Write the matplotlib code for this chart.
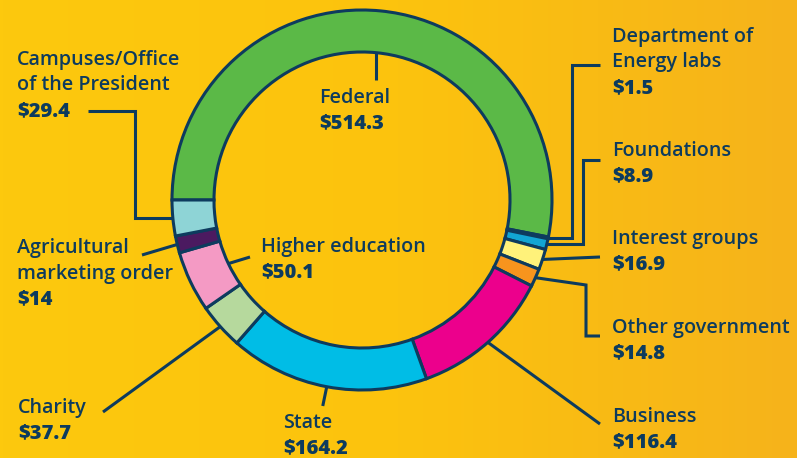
import numpy as np
import matplotlib
matplotlib.use("Agg")
import matplotlib.pyplot as plt
from matplotlib.colors import LinearSegmentedColormap

# ---------------- data ----------------
categories = ["Federal", "Department of\nEnergy labs", "Foundations", "Interest groups",
              "Other government", "Business", "State", "Charity", "Higher education",
              "Agricultural\nmarketing order", "Campuses/Office\nof the President"]
values = [514.3, 1.5, 8.9, 16.9, 14.8, 116.4, 164.2, 37.7, 50.1, 14, 29.4]
value_labels = ["$514.3", "$1.5", "$8.9", "$16.9", "$14.8", "$116.4", "$164.2",
                "$37.7", "$50.1", "$14", "$29.4"]
colors = ["#5BB947", "#2A2C5E", "#12A5D3", "#FFF27A", "#F7941D", "#EC008C",
          "#00BDE6", "#B6D99D", "#F49AC4", "#4B1A60", "#8ED4D6"]

W, H = 797, 458
NAVY = "#0D3B5E"
FONT = ["Open Sans", "DejaVu Sans"]

fig = plt.figure(figsize=(W / 100, H / 100), dpi=100)
ax = fig.add_axes([0, 0, 1, 1])

# background gradient
grad = np.linspace(0, 1, 256)[None, :]
cmap_bg = LinearSegmentedColormap.from_list("bg", ["#FDC90D", "#FCC30E", "#F6B31B"])
ax.imshow(grad, extent=[0, W, 0, H], cmap=cmap_bg, aspect="auto", zorder=0)

cx, cy = 362, H - 200
R, WID = 190, 42

ax.pie(values, colors=colors, startangle=180, counterclock=False, radius=R,
       center=(cx, cy), frame=True,
       wedgeprops=dict(width=WID, edgecolor=NAVY, linewidth=2.2))
ax.set_xlim(0, W)
ax.set_ylim(0, H)
ax.set_aspect("equal")
ax.axis("off")

# mid-angles of wedges
tot = sum(values)
cum = np.cumsum([0] + values)
mids = [180 - 360 * (cum[i] + cum[i + 1]) / 2 / tot for i in range(len(values))]


def ring_pt(i, r):
    a = np.deg2rad(mids[i])
    return cx + r * np.cos(a), cy + r * np.sin(a)


def Y(y):
    return H - y


def label(x, y_top, name, val, step=25.5):
    lines = name.split("\n")
    for k, ln in enumerate(lines):
        ax.text(x, Y(y_top + k * step), ln, color=NAVY, fontsize=14.2,
                family=FONT, fontweight="semibold", va="center", ha="left", zorder=5)
    ax.text(x, Y(y_top + len(lines) * step), val, color=NAVY, fontsize=14.5,
            family=FONT, fontweight="extra bold", va="center", ha="left", zorder=5)


def line(pts):
    xs = [p[0] for p in pts]
    ys = [p[1] for p in pts]
    ax.plot(xs, ys, color=NAVY, lw=2.2, solid_capstyle="butt",
            solid_joinstyle="miter", zorder=4)


Ro, Ri = R, R - WID

# Federal
label(319, 98, categories[0], value_labels[0])
p = ring_pt(0, Ri)
line([p, (p[0], Y(80))])

# Department of Energy labs
label(612, 37, categories[1], value_labels[1])
p = ring_pt(1, Ro)
line([(600, Y(65)), (572, Y(65)), (572, p[1]), (p[0], p[1])])

# Foundations
label(612, 151, categories[2], value_labels[2])
p = ring_pt(2, Ro)
line([(600, Y(160)), (583, Y(160)), (583, p[1]), (p[0], p[1])])

# Interest groups
label(612, 239, categories[3], value_labels[3])
p = ring_pt(3, Ro)
line([p, (600, Y(257))])

# Other government
label(612, 328, categories[4], value_labels[4])
p = ring_pt(4, Ro)
line([p, (586, Y(285)), (586, Y(336)), (600, Y(336))])

# Business
label(612, 417, categories[5], value_labels[5])
p = ring_pt(5, Ro)
line([p, (600, Y(424))])

# State
label(283, 423, categories[6], value_labels[6])
p = ring_pt(6, Ro)
line([p, (p[0] - 4, Y(406))])

# Charity
label(18, 408, categories[7], value_labels[7])
p = ring_pt(7, Ro)
line([p, (103, Y(412))])

# Higher education
label(261, 247, categories[8], value_labels[8])
p = ring_pt(8, Ri)
line([p, (250, Y(257))])

# Agricultural marketing order
label(17, 248, categories[9], value_labels[9])
p = ring_pt(9, Ro)
line([p, (142, Y(255))])

# Campuses/Office of the President
label(17, 60, categories[10], value_labels[10])
p = ring_pt(10, Ro)
line([(88, Y(111)), (135, Y(111)), (135, p[1]), (p[0], p[1])])

fig.savefig("out.png", dpi=100)
